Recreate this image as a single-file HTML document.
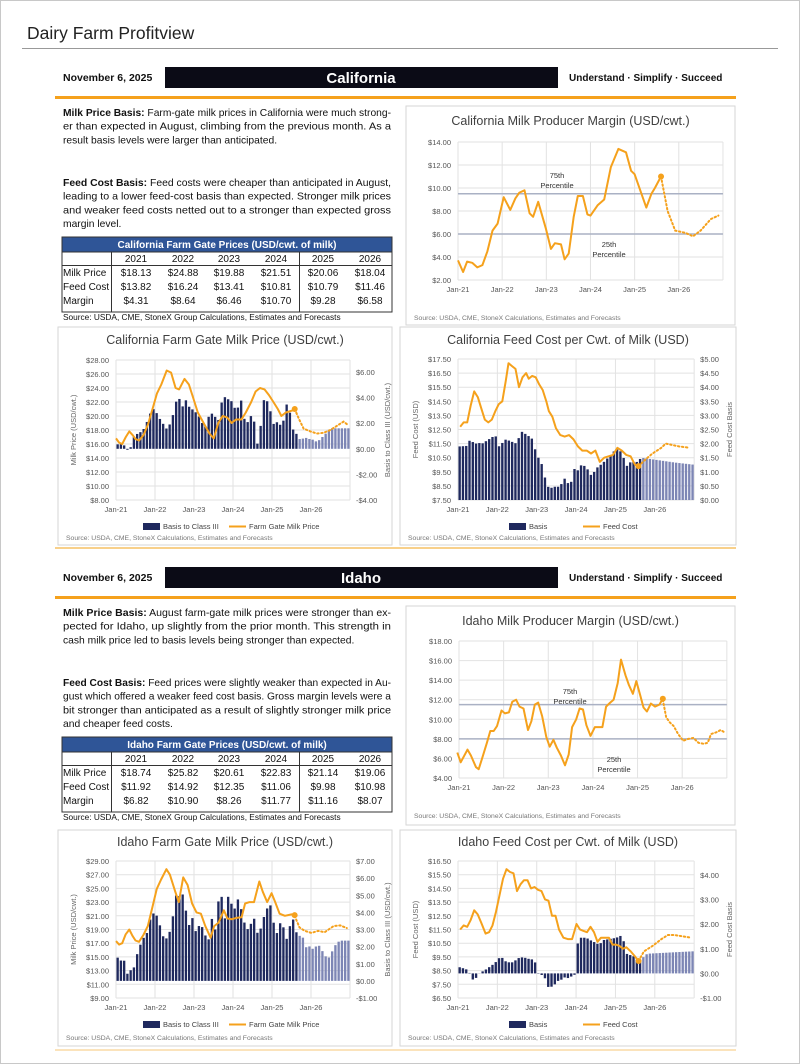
<!DOCTYPE html>
<html><head><meta charset="utf-8">
<style>
html,body{margin:0;padding:0;background:#fff;}
svg{display:block;font-family:"Liberation Sans",sans-serif;}
</style></head>
<body>
<svg id="s" width="800" height="1064" viewBox="0 0 800 1064" xmlns="http://www.w3.org/2000/svg">
<rect x="0.5" y="0.5" width="799" height="1063" fill="#fff" stroke="#c8c8c8"/>
<text x="27" y="39" font-size="17.5" fill="#222">Dairy Farm Profitview</text>
<line x1="22" y1="48.5" x2="778" y2="48.5" stroke="#999" stroke-width="1"/>
</svg>
<script>
const NS='http://www.w3.org/2000/svg';
const S=document.getElementById('s');
function el(t,a,txt){const e=document.createElementNS(NS,t);for(const k in a)e.setAttribute(k,a[k]);if(txt!=null)e.textContent=txt;S.appendChild(e);return e;}
function T(x,y,s,txt,o){return el('text',Object.assign({x:x,y:y,'font-size':s},o||{}),txt);}
const OR='#F5A11C', NAVY='#1F295E';

function header(y0,name){
  T(63,y0+14,10.5,'November 6, 2025',{'font-weight':'bold',fill:'#111'});
  el('rect',{x:165,y:y0,width:393,height:21,fill:'#0b0b16'});
  T(361,y0+16,15,name,{'font-weight':'bold',fill:'#fff','text-anchor':'middle'});
  T(569,y0+14,10,'Understand \u00b7 Simplify \u00b7 Succeed',{'font-weight':'bold',fill:'#111'});
  el('rect',{x:55,y:y0+29,width:681,height:3,fill:OR});
}
function para(y,lines,boldLead){
  lines.forEach((l,i)=>{
    const o={fill:'#111'};
    if(i<lines.length-1){o.textLength=328;o.lengthAdjust='spacingAndGlyphs';}
    const t=el('text',Object.assign({x:63,y:y+i*13.7,'font-size':10.3},o));
    if(i===0){const b=document.createElementNS(NS,'tspan');b.setAttribute('font-weight','bold');b.textContent=boldLead;t.appendChild(b);
      const r=document.createElementNS(NS,'tspan');r.textContent=l;t.appendChild(r);}
    else t.textContent=l;
  });
}
function table(y0,title,rows){
  el('rect',{x:62,y:y0,width:330,height:75,fill:'#fff',stroke:'#333','stroke-width':1});
  el('rect',{x:62,y:y0,width:330,height:15,fill:'#2F5597',stroke:'#333'});
  T(227,y0+11,10,title,{'font-weight':'bold',fill:'#fff','text-anchor':'middle'});
  el('line',{x1:62,x2:392,y1:y0+28.5,y2:y0+28.5,stroke:'#333'});
  el('line',{x1:111.5,x2:111.5,y1:y0+15,y2:y0+75,stroke:'#333'});
  el('line',{x1:299.5,x2:299.5,y1:y0+15,y2:y0+75,stroke:'#333'});
  const cx=[136,183,229,276,323,370];
  ['2021','2022','2023','2024','2025','2026'].forEach((v,i)=>T(cx[i],y0+25,10,v,{'text-anchor':'middle',fill:'#111'}));
  const ry=[y0+39,y0+53,y0+67];
  rows.forEach((r,j)=>{T(63,ry[j],10,r[0],{fill:'#111'});
    r.slice(1).forEach((v,i)=>T(cx[i],ry[j],10,v,{'text-anchor':'middle',fill:'#111'}));});
  T(63,y0+83,8.3,'Source: USDA, CME, StoneX Group Calculations, Estimates and Forecasts',{fill:'#111'});
}
function interp(keys,m){
  if(m<=keys[0][0])return keys[0][1];
  for(let i=1;i<keys.length;i++){if(m<=keys[i][0]){const a=keys[i-1],b=keys[i];return a[1]+(b[1]-a[1])*(m-a[0])/(b[0]-a[0]);}}
  return keys[keys.length-1][1];
}
function fmt(v){return (v<0?'-$':'$')+Math.abs(v).toFixed(2);}
function chart(c){
  const X=m=>c.x0+m*c.mpx;
  const YL=v=>c.ly[0]+(c.lv[0]-v)*(c.ly[1]-c.ly[0])/(c.lv[0]-c.lv[1]);
  const xEnd=X(72);
  el('rect',{x:c.box[0],y:c.box[1],width:c.box[2]-c.box[0],height:c.box[3]-c.box[1],fill:'#fff',stroke:'#d6d6d6'});
  T((c.box[0]+c.box[2])/2,c.ty,12.5,c.title,{'text-anchor':'middle',fill:'#404040'});
  for(let v=c.lt[0];v<=c.lt[1]+1e-6;v+=c.lt[2]){const y=YL(v);
    el('line',{x1:c.x0,x2:xEnd,y1:y,y2:y,stroke:'#e2e2e2'});
    T(c.x0-7,y+3,7.5,fmt(v),{'text-anchor':'end',fill:'#555'});}
  for(let k=0;k<=6;k++){const x=X(12*k);
    el('line',{x1:x,x2:x,y1:c.ly[0],y2:c.ly[1],stroke:'#e2e2e2'});
    if(k<6)T(x,c.ly[1]+12,7.5,'Jan-'+(21+k),{'text-anchor':'middle',fill:'#555'});}
  if(c.pct){c.pct.forEach(p=>{const y=YL(p);el('line',{x1:c.x0,x2:xEnd,y1:y,y2:y,stroke:'#aab1c4','stroke-width':1.5});});
    c.pl.forEach(p=>{T(p[0],p[1],7.5,p[2],{'text-anchor':'middle',fill:'#333'});});}
  if(c.rv){
    const YR=v=>c.ry[0]+(c.rv[0]-v)*(c.ry[1]-c.ry[0])/(c.rv[0]-c.rv[1]);
    for(let v=c.rt[0];v<=c.rt[1]+1e-6;v+=c.rt[2])T(xEnd+6,YR(v)+3,7.5,fmt(v),{fill:'#555'});
    const bk=c.bars.map(p=>[(p[0]-c.bzx0)/c.bzpm,p[1]]);
    const y0=YR(0);
    for(let m=0;m<72;m++){const v=interp(bk,m+0.5);const y=YR(v);
      el('rect',{x:X(m)+0.15*c.mpx,y:Math.min(y,y0),width:0.72*c.mpx,height:Math.abs(y-y0),fill:m>=56?'#7d86b5':NAVY});}
    T(0,0,7.5,c.altitle,{transform:'translate('+c.alx+','+((c.ly[0]+c.ly[1])/2)+') rotate(-90)','text-anchor':'middle',fill:'#666'});
    T(0,0,7.5,c.artitle,{transform:'translate('+c.arx+','+((c.ly[0]+c.ly[1])/2)+') rotate(-90)','text-anchor':'middle',fill:'#666'});
    const ly=c.leg[0];
    el('rect',{x:c.leg[1],y:ly-6,width:17,height:7,fill:NAVY});
    T(c.leg[1]+20,ly,7.5,c.leg[2],{fill:'#444'});
    el('line',{x1:c.leg[3],x2:c.leg[3]+17,y1:ly-2.5,y2:ly-2.5,stroke:OR,'stroke-width':2});
    T(c.leg[3]+20,ly,7.5,c.leg[4],{fill:'#444'});
  }
  const lk=c.line.map(p=>[(p[0]-c.zx0)/c.zpm,p[1]]);
  const fk=c.fline.map(p=>[(p[0]-c.zx0)/c.zpm,p[1]]);
  el('polyline',{points:lk.map(p=>X(p[0]).toFixed(1)+','+YL(p[1]).toFixed(1)).join(' '),fill:'none',stroke:OR,'stroke-width':2,'stroke-linejoin':'round'});
  el('polyline',{points:fk.map(p=>X(p[0]).toFixed(1)+','+YL(p[1]).toFixed(1)).join(' '),fill:'none',stroke:OR,'stroke-width':2,'stroke-dasharray':'1.5 2.5','stroke-linecap':'round'});
  const lp=lk[lk.length-1];
  el('circle',{cx:X(lp[0]),cy:YL(lp[1]),r:3,fill:OR});
  T(c.box[0]+8,c.src,6.8,'Source: USDA, CME, StoneX Calculations, Estimates and Forecasts',{fill:'#777'});
}

/* ===== California ===== */
header(67,'California');
para(116,['Farm-gate milk prices in California were much strong-','er than expected in August, climbing from the previous month. As a','result basis levels were larger than anticipated.'],'Milk Price Basis: ');
para(186,[' Feed costs were cheaper than anticipated in August,','leading to a lower feed-cost basis than expected. Stronger milk prices','and weaker feed costs netted out to a stronger than expected gross','margin level.'],'Feed Cost Basis:');
table(237,'California Farm Gate Prices (USD/cwt. of milk)',[
 ['Milk Price','$18.13','$24.88','$19.88','$21.51','$20.06','$18.04'],
 ['Feed Cost','$13.82','$16.24','$13.41','$10.81','$10.79','$11.46'],
 ['Margin','$4.31','$8.64','$6.46','$10.70','$9.28','$6.58']]);

chart({box:[406,106,735,325],title:'California Milk Producer Margin (USD/cwt.)',ty:125,
 x0:458,mpx:3.68,ly:[142,280],lv:[14,2],lt:[2,14,2],src:320,
 pct:[9.5,6.0],pl:[[557,178,'75th'],[557,188,'Percentile'],[609,247,'25th'],[609,257,'Percentile']],
 zx0:897,zpm:7.25,
 line:[[897,3.7],[907,2.7],[915,3.6],[925,3.5],[935,3.1],[945,3.3],[955,4.5],[965,6.3],[975,6.9],[987,9.2],[1000,8.1],[1010,9.1],[1018,9.6],[1028,9.8],[1038,7.8],[1045,7.5],[1055,8.8],[1070,6.5],[1080,4.7],[1088,5.2],[1100,5.1],[1107,3.8],[1115,4.3],[1125,7.5],[1133,9.3],[1143,9.3],[1152,7.7],[1158,7.6],[1172,8.5],[1185,9],[1198,11.8],[1213,13.4],[1228,13.1],[1238,11.5],[1245,11.2],[1268,8.3],[1278,9.5],[1285,10],[1297,11]],
 fline:[[1297,11],[1310,8],[1325,6.3],[1345,6.1],[1360,5.8],[1375,6.3],[1395,7.3],[1410,7.6]]});

chart({box:[58,327,392,545],title:'California Farm Gate Milk Price (USD/cwt.)',ty:344,
 x0:116,mpx:3.25,ly:[360,500],lv:[28,8],lt:[8,28,2],src:540,
 ry:[372,500],rv:[6,-4],rt:[-4,6,2],alx:76,arx:390,altitle:'Milk Price (USD/cwt.)',artitle:'Basis to Class III (USD/cwt.)',
 leg:[529,143,'Basis to Class III',229,'Farm Gate Milk Price'],
 zx0:148,zpm:7.31,bzx0:148,bzpm:7.31,
 line:[[148,16.8],[155,16.2],[162,16],[170,17],[178,17.8],[185,17.3],[192,16.7],[200,16.5],[210,17.3],[220,18.8],[230,21],[240,23.2],[250,24.5],[262,26.5],[272,26.2],[282,24],[290,23.8],[302,25.3],[312,24.5],[322,22.5],[332,20.5],[345,19],[358,17.5],[368,16.8],[378,19],[388,20],[398,19.8],[408,19],[418,19.5],[430,19.5],[440,20.5],[452,22],[462,23.5],[472,24],[482,23.8],[492,23],[502,22],[512,21],[520,20],[530,20.5],[545,20.8],[550,21]],
 fline:[[550,21],[560,19.5],[570,18.2],[585,17.8],[600,17.5],[615,17.6],[630,18],[645,18.6],[660,19.2],[668,18.8]],
 bars:[[148,0.4],[155,0.3],[162,0.4],[170,0.15],[178,-0.35],[185,0.8],[192,1.05],[200,1.3],[207,1.3],[214,1.85],[221,2.35],[228,3.1],[235,3.1],[242,2.6],[249,2.2],[256,1.85],[263,1.5],[270,2.0],[277,2.75],[284,3.8],[291,3.9],[298,3.3],[305,3.8],[312,3.3],[319,3.1],[326,2.9],[333,2.6],[340,2.2],[347,1.45],[354,2.5],[361,2.5],[368,3.15],[375,1.6],[382,3.0],[389,4.2],[396,3.9],[403,3.85],[410,3.65],[417,3.0],[424,3.3],[431,3.9],[438,2.0],[445,2.1],[452,2.6],[459,2.1],[466,0.4],[473,1.7],[480,3.8],[487,3.8],[494,3.15],[501,1.9],[508,2.1],[515,2.0],[522,1.6],[529,3.3],[536,3.7],[543,1.7],[550,1.3],[557,1.05],[564,0.55],[571,0.95],[578,0.8],[585,0.75],[592,0.7],[599,0.55],[606,0.7],[613,0.95],[620,1.2],[627,1.5],[634,1.6],[660,1.6]]});

chart({box:[400,327,736,545],title:'California Feed Cost per Cwt. of Milk (USD)',ty:344,
 x0:458,mpx:3.28,ly:[359,500],lv:[17.5,7.5],lt:[7.5,17.5,1],src:540,
 ry:[359,500],rv:[5,0],rt:[0,5,0.5],alx:418,arx:732,altitle:'Feed Cost (USD)',artitle:'Feed Cost Basis',
 leg:[529,509,'Basis',583,'Feed Cost'],
 zx0:907,zpm:7.47,bzx0:907,bzpm:7.47,
 line:[[912,12.7],[920,13],[928,13],[936,14.2],[944,15.2],[952,14.8],[960,14],[968,13.2],[976,13],[984,13.2],[992,13.8],[1000,14.3],[1008,14.5],[1016,16],[1022,17.2],[1030,17],[1038,16.8],[1046,15.5],[1054,16.2],[1062,16.5],[1068,16.1],[1076,16.3],[1084,16.2],[1092,15.7],[1100,15.3],[1108,14.5],[1114,13.8],[1122,13.4],[1130,12.6],[1140,12.1],[1150,12],[1160,12.1],[1170,11.8],[1180,11.3],[1190,11],[1200,11],[1210,10.8],[1220,11],[1230,10.2],[1240,10.5],[1250,10.6],[1260,10.7],[1270,11.2],[1280,11],[1290,10.7],[1300,10.6],[1310,10],[1318,9.9]],
 fline:[[1318,9.9],[1335,10.4],[1350,10.8],[1370,11.2],[1380,11.5],[1395,11.4],[1410,11.3],[1435,11.2]],
 bars:[[912,1.9],[928,1.92],[936,2.2],[944,1.95],[952,2.05],[960,1.98],[992,2.3],[1000,1.9],[1016,2.15],[1040,2.0],[1048,2.3],[1056,2.5],[1064,2.2],[1072,2.35],[1080,1.9],[1090,1.5],[1100,1.2],[1108,0.55],[1116,0.4],[1124,0.47],[1140,0.47],[1148,0.8],[1156,0.6],[1164,0.6],[1172,1.1],[1180,1.05],[1188,1.25],[1196,1.2],[1204,1.05],[1212,0.82],[1220,1.1],[1236,1.3],[1252,1.55],[1260,1.7],[1268,1.8],[1276,1.75],[1284,1.5],[1292,1.2],[1300,1.35],[1316,1.35],[1324,1.5],[1360,1.42],[1400,1.33],[1445,1.25]]});

el('rect',{x:55,y:547,width:681,height:2,fill:'#F8D08A'});

/* ===== Idaho ===== */
header(567,'Idaho');
para(616,[' August farm-gate milk prices were stronger than ex-','pected for Idaho, up slightly from the prior month. This strength in','cash milk price led to basis levels being stronger than expected.'],'Milk Price Basis:');
para(686,[' Feed prices were slightly weaker than expected in Au-','gust which offered a weaker feed cost basis. Gross margin levels were a','bit stronger than anticipated as a result of slightly stronger milk price','and cheaper feed costs.'],'Feed Cost Basis:');
table(737,'Idaho Farm Gate Prices (USD/cwt. of milk)',[
 ['Milk Price','$18.74','$25.82','$20.61','$22.83','$21.14','$19.06'],
 ['Feed Cost','$11.92','$14.92','$12.35','$11.06','$9.98','$10.98'],
 ['Margin','$6.82','$10.90','$8.26','$11.77','$11.16','$8.07']]);

chart({box:[406,606,735,825],title:'Idaho Milk Producer Margin (USD/cwt.)',ty:625,
 x0:459,mpx:3.72,ly:[641,778],lv:[18,4],lt:[4,18,2],src:818,
 pct:[11.5,8.0],pl:[[570,694,'75th'],[570,704,'Percentile'],[614,762,'25th'],[614,772,'Percentile']],
 zx0:190,zpm:10.95,
 line:[[185,6.6],[195,5.6],[215,6.9],[225,6.3],[240,5.1],[248,4.9],[258,6],[272,7.6],[282,8.8],[292,8.8],[302,9.3],[315,10.9],[325,10.6],[337,10.7],[347,11.8],[358,12],[368,11.3],[380,11.1],[393,8.9],[403,9.8],[413,11.5],[423,11.7],[435,10.3],[447,8.2],[457,7.2],[468,7.9],[478,7.1],[490,6.3],[502,5.3],[513,6.4],[523,9.2],[535,10],[545,11.1],[555,11],[565,9.4],[577,8.3],[590,9.2],[612,9.2],[623,11.3],[635,11.7],[645,12],[657,13.7],[667,16.1],[680,14.5],[690,13.5],[702,12.6],[712,13.9],[723,12.5],[733,11.2],[743,10.8],[755,11.6],[767,11.3],[780,11.5],[790,12.1]],
 fline:[[790,12],[800,10.2],[810,9.7],[822,9.3],[835,8.5],[850,7.8],[865,8],[880,8.1],[895,7.6],[910,7.5],[922,7.6],[932,8.5],[950,8.7],[960,8.9],[975,8.6]]});

chart({box:[58,830,392,1046],title:'Idaho Farm Gate Milk Price (USD/cwt.)',ty:846,
 x0:116,mpx:3.25,ly:[861,998],lv:[29,9],lt:[9,29,2],src:1040,
 ry:[861,998],rv:[7,-1],rt:[-1,7,1],alx:76,arx:390,altitle:'Milk Price (USD/cwt.)',artitle:'Basis to Class III (USD/cwt.)',
 leg:[1027,143,'Basis to Class III',229,'Farm Gate Milk Price'],
 zx0:148,zpm:7.35,bzx0:148,bzpm:7.35,
 line:[[148,17.3],[155,16.8],[162,17],[170,18.3],[178,19],[185,18.1],[192,17.4],[200,17.2],[210,18.2],[220,19.5],[230,22.2],[240,24.9],[250,26.3],[262,27.8],[270,27],[282,24.5],[290,23],[300,26.6],[310,25.5],[320,22.8],[330,21.5],[340,21.3],[350,19.5],[362,17.8],[370,19.5],[380,20],[392,21.8],[400,20.6],[410,20.5],[420,20.7],[432,20.8],[440,22.8],[450,23],[460,23],[472,26],[480,24.5],[490,23],[500,24.3],[508,23],[518,21.3],[530,21],[545,21.2],[552,21.1]],
 fline:[[552,21],[563,19.3],[575,18.8],[590,18.5],[605,18.8],[620,18.6],[640,19.5],[655,19.6],[670,19.2]],
 bars:[[148,1.56],[155,1.17],[162,1.2],[168,1.17],[175,0.25],[181,0.62],[188,0.74],[195,1.5],[202,2.05],[210,2.5],[217,2.7],[224,3.5],[230,3.9],[237,4.0],[242,3.67],[248,3.18],[256,2.48],[262,2.48],[269,2.83],[276,3.65],[283,5.0],[290,4.9],[297,5.2],[304,4.55],[311,3.0],[318,3.77],[325,3.5],[332,2.15],[339,4.3],[346,2.15],[353,3.0],[360,2.1],[367,4.3],[374,2.54],[381,5.2],[388,4.85],[395,3.5],[402,5.0],[409,4.5],[416,4.2],[423,4.8],[430,4.3],[437,3.5],[444,3.0],[451,3.1],[458,3.9],[465,3.1],[472,2.35],[479,3.95],[486,3.5],[493,4.85],[500,4.1],[507,3.0],[514,2.7],[521,3.6],[528,3.0],[535,2.35],[542,3.3],[549,3.6],[556,2.83],[563,2.63],[570,2.58],[577,1.95],[584,2.05],[591,1.85],[598,1.95],[605,2.15],[612,1.85],[619,1.56],[626,1.27],[633,1.46],[640,1.95],[647,2.18],[654,2.35],[680,2.35]]});

chart({box:[400,830,736,1046],title:'Idaho Feed Cost per Cwt. of Milk (USD)',ty:846,
 x0:458,mpx:3.28,ly:[861,998],lv:[16.5,6.5],lt:[6.5,16.5,1],src:1040,
 ry:[875,998],rv:[4,-1],rt:[-1,4,1],alx:418,arx:732,altitle:'Feed Cost (USD)',artitle:'Feed Cost Basis',
 leg:[1027,509,'Basis',583,'Feed Cost'],
 zx0:915,zpm:7.5,bzx0:915,bzpm:7.5,
 line:[[920,11.5],[928,11.8],[936,11.7],[944,12.2],[952,12.9],[960,12.6],[968,12],[978,11.2],[986,11.3],[994,11.8],[1002,12.8],[1010,14],[1018,15.2],[1026,15.9],[1034,15.7],[1042,15.6],[1050,14.3],[1058,14.8],[1066,15.1],[1074,15.1],[1082,14.5],[1090,14.6],[1098,14.4],[1106,14.3],[1114,13.7],[1122,13.6],[1130,12.5],[1138,12.5],[1146,11.5],[1156,10.9],[1166,10.8],[1176,10.8],[1186,11.9],[1194,11.5],[1202,11.4],[1210,11.3],[1218,11.7],[1226,11.3],[1234,10.6],[1242,10.9],[1250,10.9],[1260,10.9],[1268,10.4],[1276,10.4],[1284,10.3],[1292,10.1],[1300,10.2],[1310,9.9],[1318,9.6],[1328,9.2]],
 fline:[[1328,9.2],[1340,9.9],[1360,10.3],[1380,10.8],[1395,11.1],[1410,11.1],[1430,11],[1448,10.9]],
 bars:[[920,0.25],[928,0.2],[936,0.15],[944,-0.05],[950,-0.3],[958,-0.15],[966,0.05],[974,0.1],[982,0.2],[990,0.3],[998,0.4],[1006,0.55],[1012,0.7],[1018,0.6],[1026,0.45],[1042,0.45],[1050,0.6],[1058,0.65],[1066,0.65],[1074,0.6],[1090,0.55],[1096,0.05],[1104,-0.05],[1112,-0.1],[1120,-0.55],[1128,-0.55],[1136,-0.45],[1144,-0.3],[1152,-0.25],[1160,-0.15],[1168,-0.2],[1176,-0.1],[1182,-0.05],[1190,1.45],[1206,1.45],[1214,1.4],[1222,1.3],[1230,1.25],[1238,1.15],[1246,1.35],[1262,1.4],[1278,1.45],[1284,1.55],[1292,1.45],[1300,0.8],[1308,0.75],[1316,0.7],[1324,0.55],[1332,0.45],[1340,0.7],[1348,0.8],[1400,0.85],[1455,0.9]]});

el('rect',{x:55,y:1049,width:681,height:2,fill:'#FBE3BB'});
</script>
</body></html>
